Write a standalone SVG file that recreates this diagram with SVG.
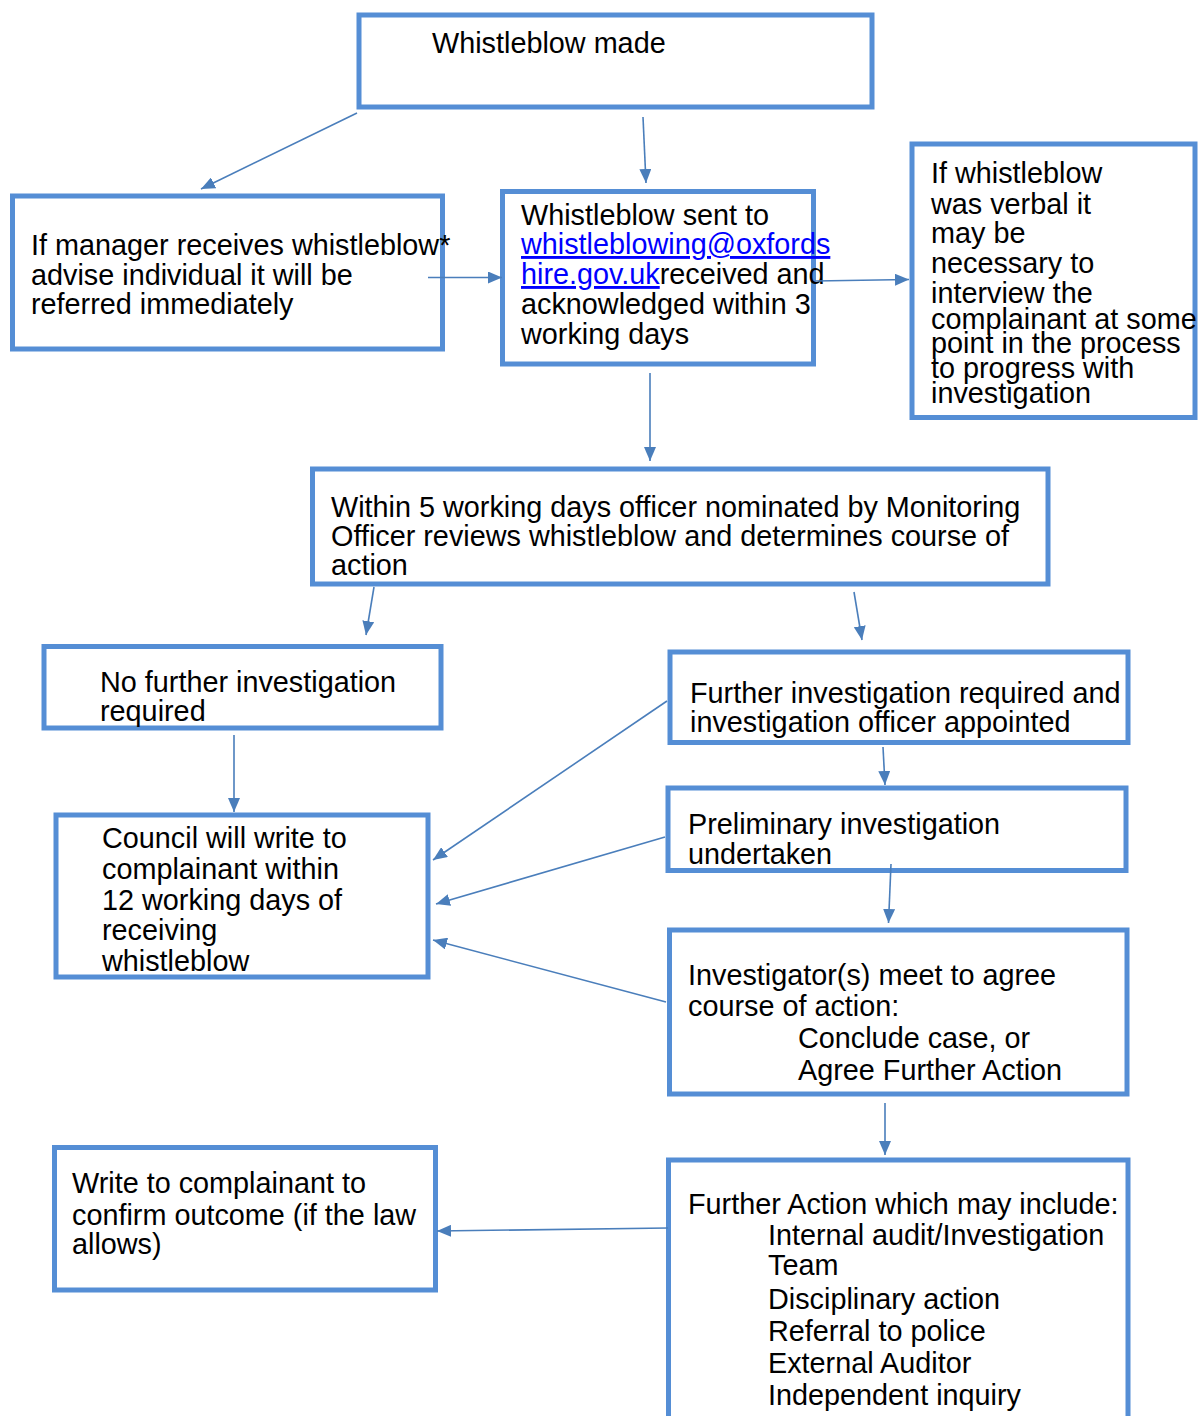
<svg xmlns="http://www.w3.org/2000/svg" width="1200" height="1416" viewBox="0 0 1200 1416">
<style>
.box{fill:#ffffff;stroke:#558ed5;stroke-width:5}
.t{font-family:"Liberation Sans",Arial,sans-serif;font-size:28.8px;fill:#000000}
.link{fill:#0000ff;text-decoration:underline}
.con line{stroke:#4a7ebb;stroke-width:1.6;fill:none;marker-end:url(#arr)}
</style>
<defs>
<marker id="arr" markerUnits="userSpaceOnUse" viewBox="0 0 14 12" refX="14" refY="6" markerWidth="14" markerHeight="12" orient="auto">
<path d="M0,0 L14,6 L0,12 z" fill="#4a7ebb"/>
</marker>
</defs>
<rect width="1200" height="1416" fill="#ffffff"/>

<g id="n1">
<rect class="box" x="359" y="15" width="513" height="92"/>
<text class="t" x="432" y="53">Whistleblow made</text>
</g>

<g id="n2">
<rect class="box" x="12.5" y="196" width="430" height="153"/>
<text class="t"><tspan x="31" y="255">If manager receives whistleblow*</tspan><tspan x="31" y="285">advise individual it will be</tspan><tspan x="31" y="314">referred immediately</tspan></text>
</g>

<g id="n3">
<rect class="box" x="502.5" y="191.5" width="311" height="172.5"/>
<text class="t"><tspan x="521" y="225">Whistleblow sent to</tspan><tspan x="521" y="254" class="link">whistleblowing@oxfords</tspan></text>
<text class="t" x="521" y="284"><tspan class="link">hire.gov.uk</tspan>received and</text>
<text class="t"><tspan x="521" y="314">acknowledged within 3</tspan><tspan x="521" y="344">working days</tspan></text>
</g>

<g id="n4">
<rect class="box" x="912" y="144" width="283" height="273.5"/>
<text class="t"><tspan x="931" y="183">If whistleblow</tspan><tspan x="931" y="214">was verbal it</tspan><tspan x="931" y="243">may be</tspan><tspan x="931" y="273">necessary to</tspan><tspan x="931" y="303">interview the</tspan><tspan x="931" y="329">complainant at some</tspan><tspan x="931" y="353">point in the process</tspan><tspan x="931" y="378">to progress with</tspan><tspan x="931" y="403">investigation</tspan></text>
</g>

<g id="n5">
<rect class="box" x="312.5" y="469" width="735.5" height="115"/>
<text class="t"><tspan x="331" y="517">Within 5 working days officer nominated by Monitoring</tspan><tspan x="331" y="546">Officer reviews whistleblow and determines course of</tspan><tspan x="331" y="575">action</tspan></text>
</g>

<g id="n6">
<rect class="box" x="44" y="646.5" width="397" height="81.5"/>
<text class="t"><tspan x="100" y="692">No further investigation</tspan><tspan x="100" y="721">required</tspan></text>
</g>

<g id="n7">
<rect class="box" x="670" y="652" width="458" height="90.5"/>
<text class="t"><tspan x="690" y="703">Further investigation required and</tspan><tspan x="690" y="732">investigation officer appointed</tspan></text>
</g>

<g id="n8">
<rect class="box" x="56" y="815" width="372" height="162"/>
<text class="t"><tspan x="102" y="848">Council will write to</tspan><tspan x="102" y="879">complainant within</tspan><tspan x="102" y="910">12 working days of</tspan><tspan x="102" y="940">receiving</tspan><tspan x="102" y="971">whistleblow</tspan></text>
</g>

<g id="n9">
<rect class="box" x="668" y="788" width="458" height="82.5"/>
<text class="t"><tspan x="688" y="834">Preliminary investigation</tspan><tspan x="688" y="864">undertaken</tspan></text>
</g>

<g id="n10">
<rect class="box" x="669.5" y="930" width="457.5" height="164"/>
<text class="t"><tspan x="688" y="985">Investigator(s) meet to agree</tspan><tspan x="688" y="1016">course of action:</tspan><tspan x="798" y="1048">Conclude case, or</tspan><tspan x="798" y="1080">Agree Further Action</tspan></text>
</g>

<g id="n11">
<rect class="box" x="54.5" y="1147.5" width="381" height="142.5"/>
<text class="t"><tspan x="72" y="1193">Write to complainant to</tspan><tspan x="72" y="1225">confirm outcome (if the law</tspan><tspan x="72" y="1254">allows)</tspan></text>
</g>

<g id="n12">
<rect class="box" x="668.5" y="1160" width="459.5" height="300"/>
<text class="t"><tspan x="688" y="1214">Further Action which may include:</tspan><tspan x="768" y="1245">Internal audit/Investigation</tspan><tspan x="768" y="1275">Team</tspan><tspan x="768" y="1309">Disciplinary action</tspan><tspan x="768" y="1341">Referral to police</tspan><tspan x="768" y="1373">External Auditor</tspan><tspan x="768" y="1405">Independent inquiry</tspan></text>
</g>

<g id="connectors" class="con">
<line x1="357" y1="113" x2="201" y2="189"/>
<line x1="643" y1="117" x2="646" y2="183"/>
<line x1="428" y1="277.5" x2="502" y2="277.5"/>
<line x1="815" y1="281" x2="909" y2="279.5"/>
<line x1="650" y1="373" x2="650" y2="461"/>
<line x1="374" y1="587" x2="366" y2="635"/>
<line x1="854" y1="592" x2="862" y2="640"/>
<line x1="234" y1="735" x2="234" y2="812"/>
<line x1="667" y1="701" x2="433" y2="860"/>
<line x1="665" y1="837" x2="436" y2="904"/>
<line x1="666" y1="1002" x2="433" y2="940"/>
<line x1="883" y1="747" x2="885" y2="785"/>
<line x1="891" y1="864" x2="888.5" y2="923"/>
<line x1="885" y1="1103" x2="885" y2="1155"/>
<line x1="668" y1="1228" x2="437" y2="1231"/>
</g>
</svg>
